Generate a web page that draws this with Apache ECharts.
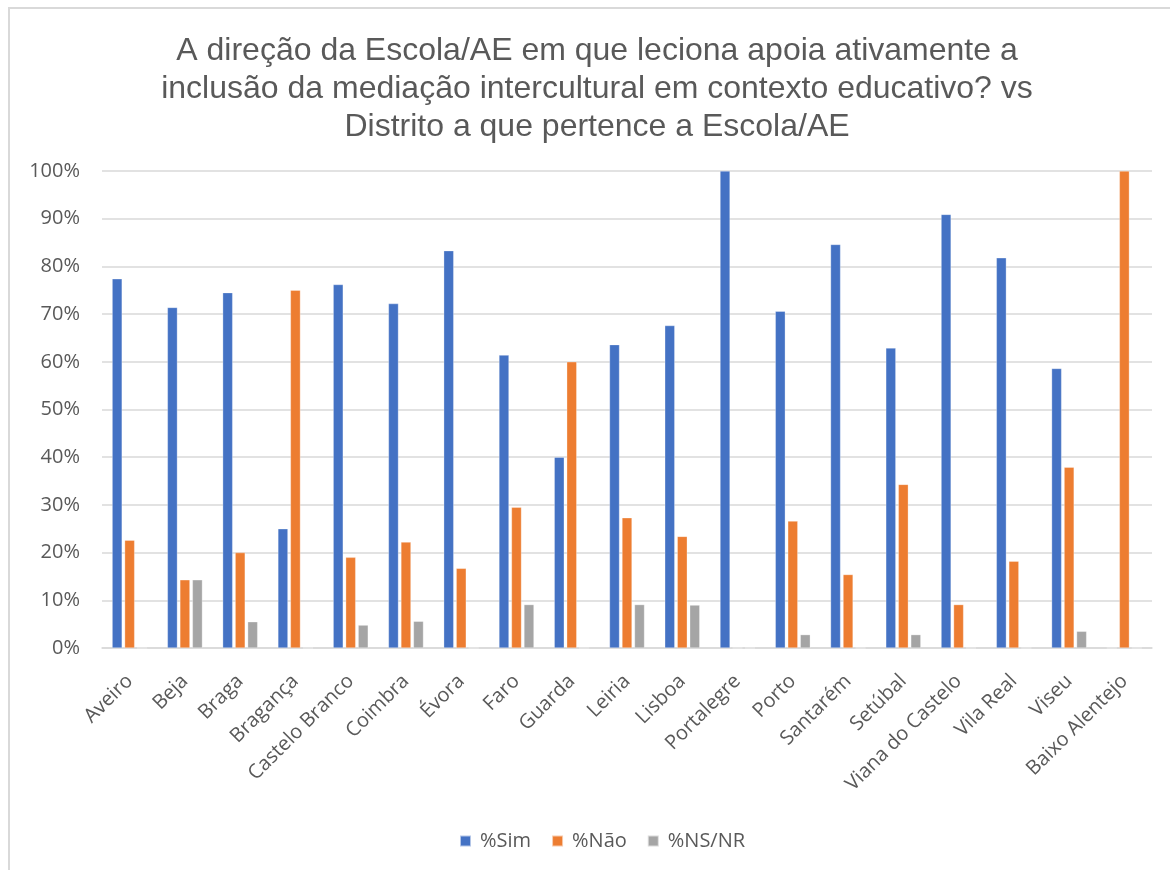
<!DOCTYPE html>
<html>
<head>
<meta charset="utf-8">
<script src="https://cdn.jsdelivr.net/npm/echarts@6/dist/echarts.min.js"></script>
<style>
  html, body { margin: 0; padding: 0; background: #fff; }
  #frame { position: absolute; left: 8px; top: 7px; width: 1170px; height: 870px;
           border-left: 2px solid #d9d9d9; border-top: 2px solid #d9d9d9; }
  #chart { position: absolute; left: 0; top: 0; width: 1170px; height: 870px; }
</style>
</head>
<body>
<div id="frame"></div>
<div id="chart"></div>
<script>
const categories = ['Aveiro', 'Beja', 'Braga', 'Bragança', 'Castelo Branco', 'Coimbra', 'Évora',
  'Faro', 'Guarda', 'Leiria', 'Lisboa', 'Portalegre', 'Porto', 'Santarém', 'Setúbal',
  'Viana do Castelo', 'Vila Real', 'Viseu', 'Baixo Alentejo']

const simValues = [77.4, 71.4, 74.5, 25.0, 76.2, 72.2, 83.3, 61.4, 40.0, 63.6, 67.6, 100,
  70.6, 84.6, 62.9, 90.9, 81.8, 58.6, 0]
const naoValues = [22.6, 14.3, 20.0, 75.0, 19.0, 22.2, 16.7, 29.5, 60.0, 27.3, 23.4, 0,
  26.6, 15.4, 34.3, 9.1, 18.2, 37.9, 100]
const nsValues = [0, 14.3, 5.5, 0, 4.8, 5.6, 0, 9.1, 0, 9.1, 9.0, 0,
  2.8, 0, 2.8, 0, 0, 3.5, 0]

const yTicks = [0, 10, 20, 30, 40, 50, 60, 70, 80, 90, 100]

const chart = echarts.init(document.getElementById('chart'))

const labelFont = '"Open Sans", "Noto Sans", sans-serif'
const barStyle = (color) => ({ color, borderColor: 'rgba(255,255,255,0.6)', borderWidth: 0.5 })

const option = {
  animation: false,
  title: {
    text: 'A direção da Escola/AE em que leciona apoia ativamente a\ninclusão da mediação intercultural em contexto educativo? vs\nDistrito a que pertence a Escola/AE',
    left: 592,
    top: 27,
    textAlign: 'center',
    textStyle: {
      fontFamily: '"Liberation Sans", Arial, sans-serif',
      fontSize: 32,
      fontWeight: 'normal',
      color: '#595959',
      lineHeight: 38
    }
  },
  legend: {
    data: ['%Sim', '%Não', '%NS/NR'],
    left: 454,
    top: 826,
    itemWidth: 11,
    itemHeight: 11,
    itemGap: 20,
    icon: 'rect',
    textStyle: { fontFamily: labelFont, fontSize: 20, color: '#595959', padding: [0, 0, 0, 4] }
  },
  grid: {
    left: 102,
    right: 18,
    top: 171,
    bottom: 222,
    containLabel: false
  },
  xAxis: {
    type: 'category',
    data: categories,
    axisLine: { lineStyle: { color: '#d9d9d9', width: 1.5 } },
    axisTick: { show: false },
    axisLabel: {
      rotate: 45,
      interval: 0,
      margin: 30,
      fontFamily: labelFont,
      fontSize: 20,
      color: '#595959'
    }
  },
  yAxis: {
    type: 'value',
    min: yTicks[0],
    max: yTicks[yTicks.length - 1],
    interval: 10,
    axisLine: { show: false },
    axisTick: { show: false },
    axisLabel: {
      margin: 22,
      fontFamily: labelFont,
      fontSize: 20,
      color: '#595959',
      formatter: (v) => v + '%'
    },
    splitLine: { lineStyle: { color: '#d9d9d9', width: 1.5 } }
  },
  series: [
    { name: '%Sim', type: 'bar', data: simValues, barWidth: 10, barGap: '25%', itemStyle: barStyle('#4472C4') },
    { name: '%Não', type: 'bar', data: naoValues, barWidth: 10, barGap: '25%', itemStyle: barStyle('#ED7D31') },
    { name: '%NS/NR', type: 'bar', data: nsValues, barWidth: 10, barGap: '25%', itemStyle: barStyle('#A5A5A5') }
  ]
}

chart.setOption(option)
</script>
</body>
</html>
